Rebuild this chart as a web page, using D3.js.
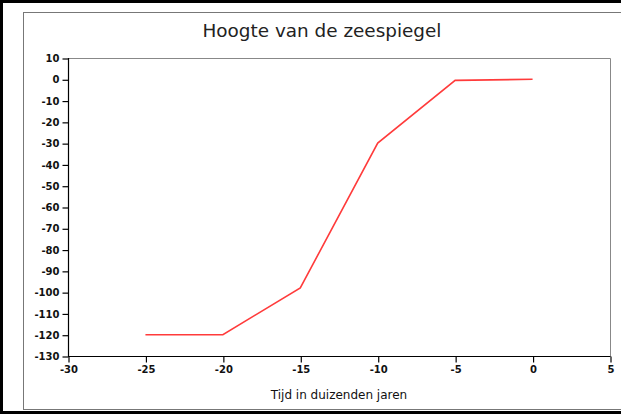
<!DOCTYPE html>
<html>
<head>
<meta charset="utf-8">
<script src="https://cdn.jsdelivr.net/npm/d3@7"></script>
<style>
  html, body { margin: 0; padding: 0; background: #fff; }
  svg { display: block; }
</style>
</head>
<body>
<div id="chart"></div>
<script>
// Data
var years = [-25, -20, -15, -10, -5, 0];          // duizenden jaren
var seaLevel = [-120, -120, -98, -30, -0.5, 0];   // meter
var xTicks = [-30, -25, -20, -15, -10, -5, 0, 5];
var yTicks = [10, 0, -10, -20, -30, -40, -50, -60, -70, -80, -90, -100, -110, -120, -130];

(function () {
    var W = 621, H = 414;
    var plot = { left: 68, right: 610, top: 58, bottom: 356 };

    var svg = d3.select('#chart').append('svg')
        .attr('width', W)
        .attr('height', H);

    // outer black frame (left, top, bottom) and inner grey frame
    svg.append('rect').attr('x', 0).attr('y', 0).attr('width', W).attr('height', 3).attr('fill', '#000');
    svg.append('rect').attr('x', 0).attr('y', 0).attr('width', 3).attr('height', H).attr('fill', '#000');
    svg.append('rect').attr('x', 0).attr('y', 411).attr('width', W).attr('height', 3).attr('fill', '#000');
    svg.append('rect')
        .attr('x', 23.5).attr('y', 12.5)
        .attr('width', 640).attr('height', 397)
        .attr('fill', 'none')
        .attr('stroke', '#777')
        .attr('stroke-width', 1);

    var x = d3.scaleLinear().domain([-30, 5]).range([plot.left, plot.right]);
    var y = d3.scaleLinear().domain([-130, 10]).range([plot.bottom, plot.top]);

    // plot box (top and right in grey)
    svg.append('path')
        .attr('d', 'M' + (plot.left + 0.5) + ',' + (plot.top + 0.5) + 'H' + (plot.right + 0.5) + 'V' + (plot.bottom + 0.5))
        .attr('fill', 'none')
        .attr('stroke', '#888')
        .attr('stroke-width', 1);

    var fontFam = '"DejaVu Sans", sans-serif';
    var fmt = function (d) { return String(d); };   // plain hyphen, as in the original

    var xAxis = svg.append('g')
        .attr('transform', 'translate(0.5,' + (plot.bottom + 0.5) + ')')
        .call(d3.axisBottom(x).tickValues(xTicks).tickSize(6).tickPadding(3).tickFormat(fmt));

    var yAxis = svg.append('g')
        .attr('transform', 'translate(' + (plot.left + 0.5) + ',0.5)')
        .call(d3.axisLeft(y).tickValues(yTicks).tickSize(6).tickPadding(3).tickFormat(fmt));

    [xAxis, yAxis].forEach(function (g) {
        g.select('.domain').attr('stroke', '#000').attr('stroke-width', 1.2);
        g.selectAll('.tick line').attr('stroke', '#000').attr('stroke-width', 1.2);
        g.selectAll('text')
            .attr('fill', '#111')
            .style('font-family', fontFam)
            .style('font-size', '10px')
            .style('font-weight', 'bold');
    });
    // extend domain lines without the outer-tick hooks
    xAxis.select('.domain').attr('d', 'M' + (plot.left - 0.5) + ',0H' + plot.right);
    yAxis.select('.domain').attr('d', 'M0,' + (plot.top - 0.5) + 'V' + plot.bottom);

    var line = d3.line()
        .x(function (d, i) { return x(years[i]); })
        .y(function (d) { return y(d); });

    svg.append('path')
        .datum(seaLevel)
        .attr('fill', 'none')
        .attr('stroke', '#ff3b3b')
        .attr('stroke-width', 1.6)
        .attr('d', line);

    svg.append('text')
        .attr('x', 322)
        .attr('y', 37)
        .attr('text-anchor', 'middle')
        .attr('fill', '#222')
        .style('font-family', fontFam)
        .style('font-size', '18.4px')
        .text('Hoogte van de zeespiegel');

    svg.append('text')
        .attr('x', (plot.left + plot.right) / 2)
        .attr('y', 399)
        .attr('text-anchor', 'middle')
        .attr('fill', '#111')
        .style('font-family', fontFam)
        .style('font-size', '12px')
        .text('Tijd in duizenden jaren');
})();
</script>
</body>
</html>
